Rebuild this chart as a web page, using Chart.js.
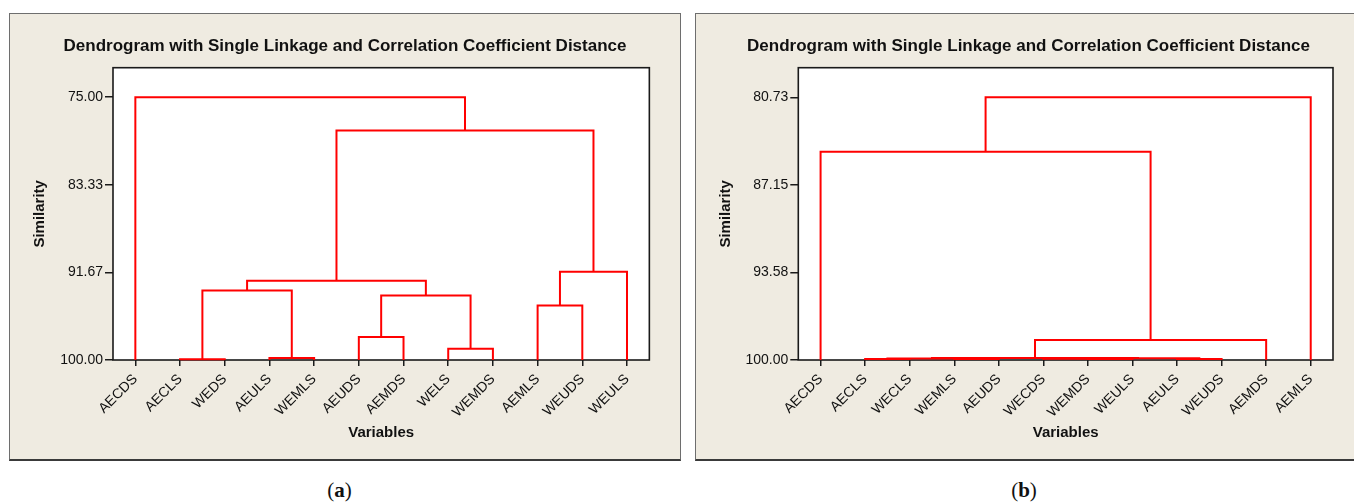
<!DOCTYPE html>
<html>
<head>
<meta charset="utf-8">
<script src="https://cdn.jsdelivr.net/npm/chart.js@4.4.1/dist/chart.umd.min.js"></script>
<style>
html,body{margin:0;padding:0;width:1354px;height:503px;overflow:hidden;background:#fff;}
.panel{position:absolute;top:13px;height:445px;background:#EFEBE1;border:1px solid #6e6e6e;border-bottom:2px solid #3a3a3a;}
#pa{left:9px;width:670px;}
#pb{left:695px;width:670px;border-right:none;}
.panel canvas{position:absolute;left:0;top:0;}
.cap{position:absolute;top:480px;font-family:"Liberation Serif","DejaVu Serif",serif;font-size:21px;line-height:1;color:#111;transform:translateX(-50%);white-space:nowrap;}
</style>
</head>
<body>
<div class="panel" id="pa"><canvas id="ca" width="670" height="445"></canvas></div>
<div class="panel" id="pb"><canvas id="cb" width="665" height="445"></canvas></div>
<div class="cap" style="left:339.5px">(<b>a</b>)</div>
<div class="cap" style="left:1024px">(<b>b</b>)</div>
<script>
// ---------- data ----------
const titleText = 'Dendrogram with Single Linkage and Correlation Coefficient Distance';
const xTitle = 'Variables';
const yTitle = 'Similarity';

// Panel (a)
const leavesA = ['AECDS','AECLS','WEDS','AEULS','WEMLS','AEUDS','AEMDS','WELS','WEMDS','AEMLS','WEUDS','WEULS'];
// merge k creates node 12+k from nodes mergeLeftA[k], mergeRightA[k] at similarity mergeSimA[k]
const mergeLeftA  = [1, 3, 5, 7, 9, 12, 14, 16, 17, 20, 0];
const mergeRightA = [2, 4, 6, 8, 10, 13, 15, 11, 18, 19, 21];
const mergeSimA   = [99.93, 99.82, 97.81, 98.93, 94.81, 93.38, 93.86, 91.60, 92.46, 78.17, 75.00];
const yTicksA = [75.00, 83.33, 91.67, 100.00];
const yTopA = 72.19;

// Panel (b)
const leavesB = ['AECDS','AECLS','WECLS','WEMLS','AEUDS','WECDS','WEMDS','WEULS','AEULS','WEUDS','AEMDS','AEMLS'];
const mergeLeftB  = [1, 3, 6, 8, 12, 5, 17, 16, 19, 0, 21];
const mergeRightB = [2, 4, 7, 9, 13, 14, 15, 18, 10, 20, 11];
const mergeSimB   = [99.93, 99.92, 99.92, 99.93, 99.89, 99.90, 99.88, 99.86, 98.54, 84.72, 80.73];
const yTicksB = [80.73, 87.15, 93.58, 100.00];
const yTopB = 78.56;

// ---------- helpers ----------
const FONT = '"Liberation Sans", Arial, sans-serif';

function buildLinks(n, L, R, H) {
  const pos = [], hgt = [];
  for (let i = 0; i < n; i++) { pos[i] = i; hgt[i] = 100; }
  const segs = [];
  for (let k = 0; k < L.length; k++) {
    const a = L[k], b = R[k], h = H[k];
    segs.push([{x: pos[a], y: hgt[a]}, {x: pos[a], y: h}, {x: pos[b], y: h}, {x: pos[b], y: hgt[b]}]);
    pos[n + k] = (pos[a] + pos[b]) / 2;
    hgt[n + k] = h;
  }
  return segs;
}

const framePlugin = {
  id: 'frame',
  beforeDraw(c) {
    const {ctx, chartArea: a} = c;
    ctx.save();
    ctx.fillStyle = '#ffffff';
    ctx.fillRect(a.left, a.top, a.right - a.left, a.bottom - a.top);
    ctx.restore();
  },
  beforeDatasetsDraw(c) {
    const {ctx, chartArea: a} = c;
    ctx.save();
    ctx.strokeStyle = '#1a1a1a';
    ctx.lineWidth = 1.6;
    ctx.strokeRect(a.left, a.top, a.right - a.left, a.bottom - a.top);
    ctx.restore();
  }
};

function makeChart(id, leaves, L, R, H, yTicks, yTop, yAxisW, rightW) {
  const segs = buildLinks(leaves.length, L, R, H);
  const datasets = segs.map(s => ({
    data: s, showLine: true, borderColor: '#ff0000', borderWidth: 2,
    pointRadius: 0, pointHoverRadius: 0, fill: false, tension: 0, clip: 4
  }));
  const tickGrid = {display: true, drawOnChartArea: false, drawTicks: true, color: '#1a1a1a', lineWidth: 1.5};
  return new Chart(document.getElementById(id), {
    type: 'scatter',
    data: {datasets},
    options: {
      responsive: false,
      animation: false,
      events: [],
      layout: {padding: {left: 0, right: 0, top: 0, bottom: 17}},
      plugins: {
        legend: {display: false},
        tooltip: {enabled: false},
        title: {display: true, text: titleText, color: '#111',
                font: {family: FONT, size: 17, weight: 'bold'},
                padding: {top: 22.5, bottom: 10.8}}
      },
      scales: {
        x: {
          type: 'linear', min: -0.5, max: leaves.length - 0.5,
          afterBuildTicks: s => { s.ticks = leaves.map((_, i) => ({value: i})); },
          afterFit: s => { s.height = 82; },
          ticks: {autoSkip: false, minRotation: 45, maxRotation: 45, padding: 5,
                  color: '#111', font: {family: FONT, size: 14},
                  callback: v => leaves[v]},
          grid: Object.assign({tickLength: 6}, tickGrid),
          border: {display: false},
          title: {display: true, text: xTitle, color: '#111',
                  font: {family: FONT, size: 15, weight: 'bold'}, padding: {top: 0, bottom: 0}}
        },
        y: {
          type: 'linear', reverse: true, min: yTop, max: 100,
          afterBuildTicks: s => { s.ticks = yTicks.map(v => ({value: v})); },
          afterFit: s => { s.width = yAxisW; },
          ticks: {padding: 2, color: '#111', font: {family: FONT, size: 14},
                  callback: v => Number(v).toFixed(2)},
          grid: Object.assign({tickLength: 8}, tickGrid),
          border: {display: false},
          title: {display: true, text: yTitle, color: '#111',
                  font: {family: FONT, size: 15, weight: 'bold'}, padding: {top: 21, bottom: 0}}
        },
        yR: {
          position: 'right', display: true, min: 0, max: 1,
          afterFit: s => { s.width = rightW; },
          ticks: {display: false}, grid: {display: false}, border: {display: false}
        }
      }
    },
    plugins: [framePlugin]
  });
}

makeChart('ca', leavesA, mergeLeftA, mergeRightA, mergeSimA, yTicksA, yTopA, 103, 30.65);
makeChart('cb', leavesB, mergeLeftB, mergeRightB, mergeSimB, yTicksB, yTopB, 102.3, 28);
</script>
</body>
</html>
